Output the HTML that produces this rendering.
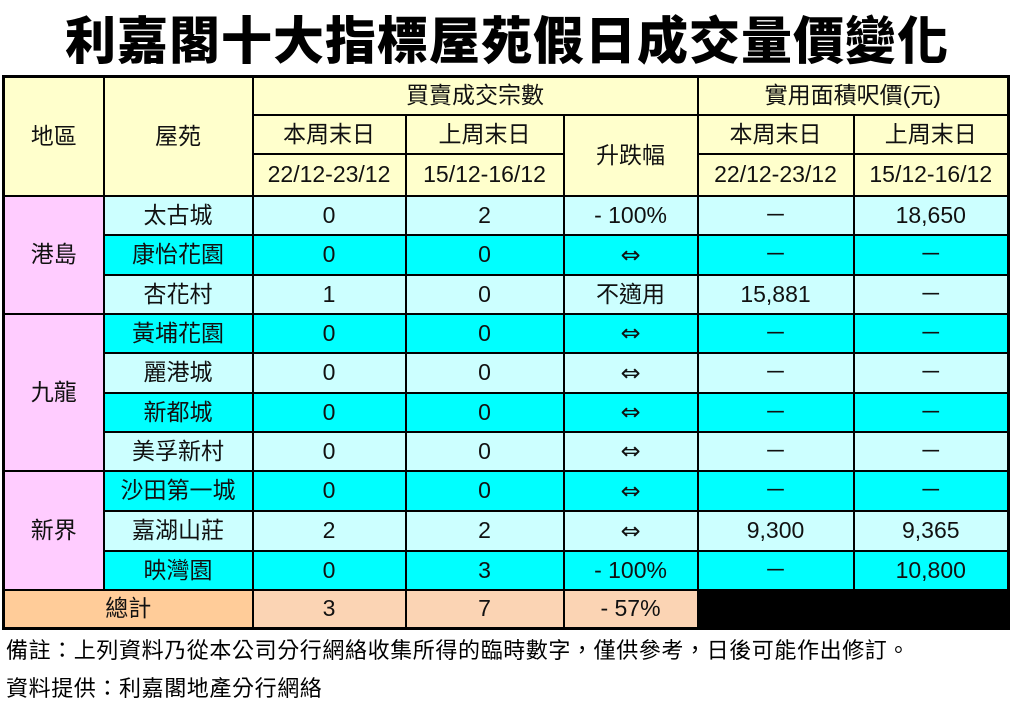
<!DOCTYPE html>
<html><head><meta charset="utf-8"><style>
body{margin:0;width:1014px;height:707px;background:#fff;position:relative;overflow:hidden;font-family:"Liberation Sans","Noto Sans CJK TC",sans-serif;}
.title{position:absolute;left:0;top:2px;width:1014px;text-align:center;font-size:51px;font-weight:900;letter-spacing:1px;line-height:70px;font-family:"Noto Sans CJK TC",sans-serif;}
table{position:absolute;left:2px;top:75px;border-collapse:collapse;table-layout:fixed;border:3px solid #000;}
td{border:2px solid #000;text-align:center;font-size:23px;padding:0;line-height:1;color:#111;}
.h{background:#FFFFCC}
.r{background:#FFCCFF}
.a{background:#CCFFFF}
.b{background:#00FFFF}
.t1{background:#FFCC99}
.t2{background:#FBD4B4}
.k{background:#000}
.e{font-family:"DejaVu Sans",sans-serif;font-size:24px;}
.note{position:absolute;left:6px;font-size:22px;letter-spacing:0.6px;color:#000;}
</style></head><body>
<div class="title">利嘉閣十大指標屋苑假日成交量價變化</div>
<table>
<colgroup><col style="width:100px"><col style="width:149px"><col style="width:153px"><col style="width:158px"><col style="width:134px"><col style="width:156px"><col style="width:155px"></colgroup>
<tr style="height:38px"><td class="h" rowspan="3">地區</td><td class="h" rowspan="3">屋苑</td><td class="h" colspan="3">買賣成交宗數</td><td class="h" colspan="2">實用面積呎價(元)</td></tr>
<tr style="height:39px"><td class="h">本周末日</td><td class="h">上周末日</td><td class="h" rowspan="2">升跌幅</td><td class="h">本周末日</td><td class="h">上周末日</td></tr>
<tr style="height:42px"><td class="h">22/12-23/12</td><td class="h">15/12-16/12</td><td class="h">22/12-23/12</td><td class="h">15/12-16/12</td></tr>
<tr style="height:39px"><td class="r" rowspan="3">港島</td><td class="a">太古城</td><td class="a">0</td><td class="a">2</td><td class="a">- 100%</td><td class="a">－</td><td class="a">18,650</td></tr>
<tr style="height:40px"><td class="b">康怡花園</td><td class="b">0</td><td class="b">0</td><td class="b e">⇔</td><td class="b">－</td><td class="b">－</td></tr>
<tr style="height:39px"><td class="a">杏花村</td><td class="a">1</td><td class="a">0</td><td class="a">不適用</td><td class="a">15,881</td><td class="a">－</td></tr>
<tr style="height:39px"><td class="r" rowspan="4">九龍</td><td class="b">黃埔花園</td><td class="b">0</td><td class="b">0</td><td class="b e">⇔</td><td class="b">－</td><td class="b">－</td></tr>
<tr style="height:40px"><td class="a">麗港城</td><td class="a">0</td><td class="a">0</td><td class="a e">⇔</td><td class="a">－</td><td class="a">－</td></tr>
<tr style="height:39px"><td class="b">新都城</td><td class="b">0</td><td class="b">0</td><td class="b e">⇔</td><td class="b">－</td><td class="b">－</td></tr>
<tr style="height:39px"><td class="a">美孚新村</td><td class="a">0</td><td class="a">0</td><td class="a e">⇔</td><td class="a">－</td><td class="a">－</td></tr>
<tr style="height:40px"><td class="r" rowspan="3">新界</td><td class="b">沙田第一城</td><td class="b">0</td><td class="b">0</td><td class="b e">⇔</td><td class="b">－</td><td class="b">－</td></tr>
<tr style="height:40px"><td class="a">嘉湖山莊</td><td class="a">2</td><td class="a">2</td><td class="a e">⇔</td><td class="a">9,300</td><td class="a">9,365</td></tr>
<tr style="height:39px"><td class="b">映灣園</td><td class="b">0</td><td class="b">3</td><td class="b">- 100%</td><td class="b">－</td><td class="b">10,800</td></tr>
<tr style="height:39px"><td class="t1" colspan="2">總計</td><td class="t2">3</td><td class="t2">7</td><td class="t2">- 57%</td><td class="k" colspan="2"></td></tr>
</table>
<div class="note" style="top:633px">備註：上列資料乃從本公司分行網絡收集所得的臨時數字，僅供參考，日後可能作出修訂。</div>
<div class="note" style="top:671px">資料提供：利嘉閣地產分行網絡</div>
</body></html>
